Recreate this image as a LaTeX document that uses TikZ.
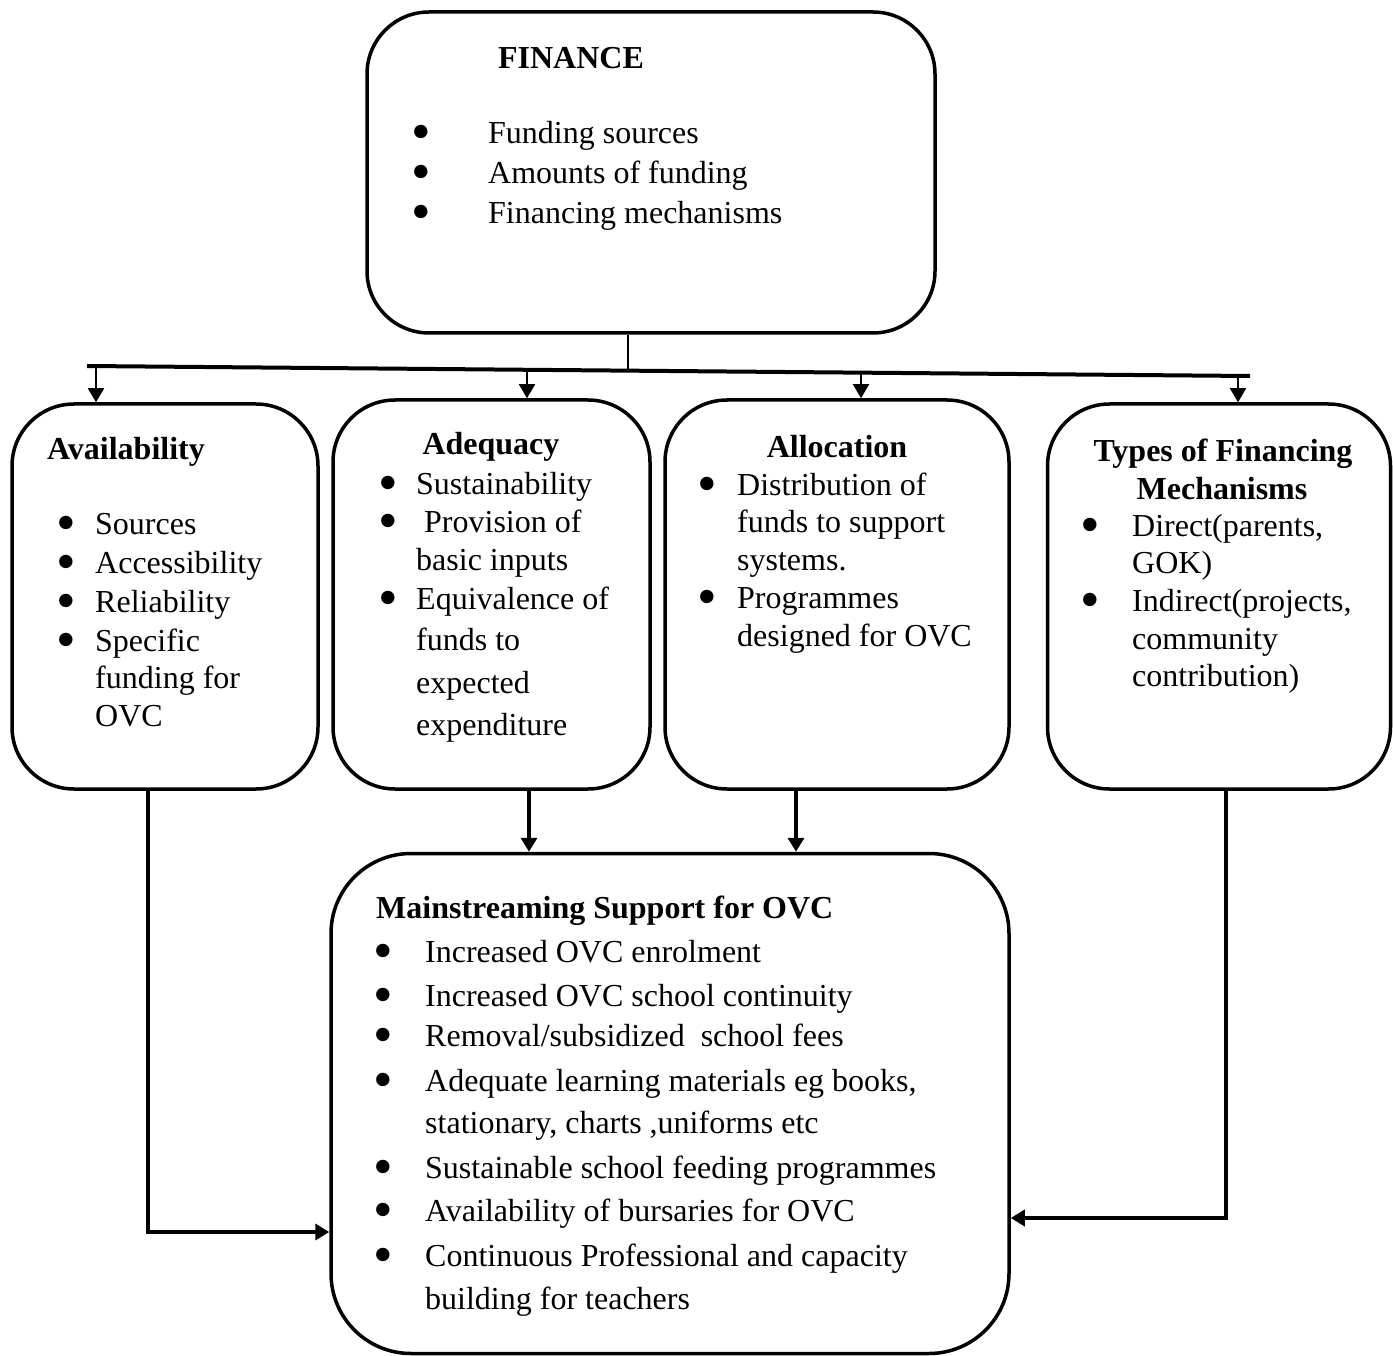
\documentclass[tikz,border=0pt]{standalone}
\usepackage{fontspec}
\setmainfont{Liberation Serif}
\usetikzlibrary{arrows.meta}
\newcommand{\bul}[2]{\makebox[#1][l]{\makebox[0pt][c]{\smash{\raisebox{-7pt}{\fontsize{56}{56}\selectfont\textbullet}}}}#2}
\begin{document}
\begin{tikzpicture}[x=1pt,y=-1pt,
  box/.style={draw, line width=3.5pt, rounded corners=#1, inner sep=0pt},
  txt/.style={inner sep=0pt, anchor=base west, font=\fontsize{32}{40}\selectfont},
  hd/.style={inner sep=0pt, anchor=base, font=\fontsize{32}{40}\selectfont\bfseries},
  hdl/.style={inner sep=0pt, anchor=base west, font=\fontsize{32}{40}\selectfont\bfseries},
  bar/.style={line width=4pt},
  thinline/.style={line width=1.5pt},
  smallarrow/.style={line width=1.8pt, -{Triangle[length=14pt,width=16pt]}},
  bigarrow/.style={line width=3.5pt, -{Triangle[length=14pt,width=16pt]}}]
\useasboundingbox (0,0) rectangle (1393,1356);

% boxes
\node[box=62pt, minimum width=568pt, minimum height=321pt] (fin) at (651,172.5) {};
\node[box=62pt, minimum width=306pt, minimum height=385pt] (avl) at (165,596.5) {};
\node[box=62pt, minimum width=317pt, minimum height=389pt] (ade) at (491.5,594.5) {};
\node[box=62pt, minimum width=344pt, minimum height=389pt] (all) at (837,594.5) {};
\node[box=62pt, minimum width=343pt, minimum height=385pt] (typ) at (1219,596.5) {};
\node[box=80pt, minimum width=678pt, minimum height=500pt] (main) at (670,1103.5) {};

% FINANCE text
\node[hd] (fin-t) at (571,69) {FINANCE};
\node[txt] (fin-1) at (421.5,144) {\bul{66.5pt}{Funding sources}};
\node[txt] (fin-2) at (421.5,184) {\bul{66.5pt}{Amounts of funding}};
\node[txt] (fin-3) at (421.5,224) {\bul{66.5pt}{Financing mechanisms}};

% Availability text
\node[hdl] (avl-t) at (47,459) {Availability};
\node[txt] (avl-1) at (66,534) {\bul{29pt}{Sources}};
\node[txt] (avl-2) at (66,573) {\bul{29pt}{Accessibility}};
\node[txt] (avl-3) at (66,612) {\bul{29pt}{Reliability}};
\node[txt] (avl-4) at (66,651) {\bul{29pt}{Specific}};
\node[txt] (avl-5) at (95,688) {funding for};
\node[txt] (avl-6) at (95,726) {OVC};

% Adequacy text
\node[hd] (ade-t) at (491,454) {Adequacy};
\node[txt] (ade-1) at (388,494) {\bul{28pt}{Sustainability}};
\node[txt] (ade-2) at (388,532) {\bul{28pt}{\hspace{8pt}Provision of}};
\node[txt] (ade-3) at (416,570) {basic inputs};
\node[txt] (ade-4) at (388,609) {\bul{28pt}{Equivalence of}};
\node[txt] (ade-5) at (416,650) {funds to};
\node[txt] (ade-6) at (416,693) {expected};
\node[txt] (ade-7) at (416,735) {expenditure};

% Allocation text
\node[hd] (all-t) at (837,457) {Allocation};
\node[txt] (all-1) at (707,495) {\bul{30pt}{Distribution of}};
\node[txt] (all-2) at (737,532) {funds to support};
\node[txt] (all-3) at (737,570) {systems.};
\node[txt] (all-4) at (707,608) {\bul{30pt}{Programmes}};
\node[txt] (all-5) at (737,646) {designed for OVC};

% Types text
\node[hd] (typ-t1) at (1223,461) {Types of Financing};
\node[hd] (typ-t2) at (1222,499) {Mechanisms};
\node[txt] (typ-1) at (1090,536) {\bul{42pt}{Direct(parents,}};
\node[txt] (typ-2) at (1132,573) {GOK)};
\node[txt] (typ-3) at (1090,611) {\bul{42pt}{Indirect(projects,}};
\node[txt] (typ-4) at (1132,649) {community};
\node[txt] (typ-5) at (1132,686) {contribution)};

% Mainstreaming text
\node[hdl] (main-t) at (376,918) {Mainstreaming Support for OVC};
\node[txt] (main-1) at (383,962) {\bul{42pt}{Increased OVC enrolment}};
\node[txt] (main-2) at (383,1006) {\bul{42pt}{Increased OVC school continuity}};
\node[txt] (main-3) at (383,1046) {\bul{42pt}{Removal/subsidized\ \ school fees}};
\node[txt] (main-4) at (383,1091) {\bul{42pt}{Adequate learning materials eg books,}};
\node[txt] (main-5) at (425,1133) {stationary, charts ,uniforms etc};
\node[txt] (main-6) at (383,1178) {\bul{42pt}{Sustainable school feeding programmes}};
\node[txt] (main-7) at (383,1221) {\bul{42pt}{Availability of bursaries for OVC}};
\node[txt] (main-8) at (383,1266) {\bul{42pt}{Continuous Professional and capacity}};
\node[txt] (main-9) at (425,1309) {building for teachers};

% distribution bar
\coordinate (barL) at (87,366);
\coordinate (barR) at (1250,376);
\coordinate (junc) at (628,370.6);
\coordinate (d1) at (96,366.1);
\coordinate (d2) at (527,369.8);
\coordinate (d3) at (861,372.6);
\coordinate (d4) at (1238,375.9);
\draw[bar] (barL) -- (barR);
\draw[thinline] (fin.south -| junc) -- (junc);
\draw[smallarrow] (d1) -- (d1 |- avl.north);
\draw[smallarrow] (d2) -- (d2 |- ade.north);
\draw[smallarrow] (d3) -- (d3 |- all.north);
\draw[smallarrow] (d4) -- (d4 |- typ.north);

% to mainstreaming
\coordinate (m1) at (529,0);
\coordinate (m2) at (796,0);
\coordinate (c1) at (148,1232);
\coordinate (c2) at (1226,1218);
\draw[bigarrow] (ade.south -| m1) -- (m1 |- main.north);
\draw[bigarrow] (all.south -| m2) -- (m2 |- main.north);
\draw[bigarrow] (avl.south -| c1) -- (c1) -- (c1 -| main.west);
\draw[bigarrow] (typ.south -| c2) -- (c2) -- (c2 -| main.east);
\end{tikzpicture}
\end{document}
